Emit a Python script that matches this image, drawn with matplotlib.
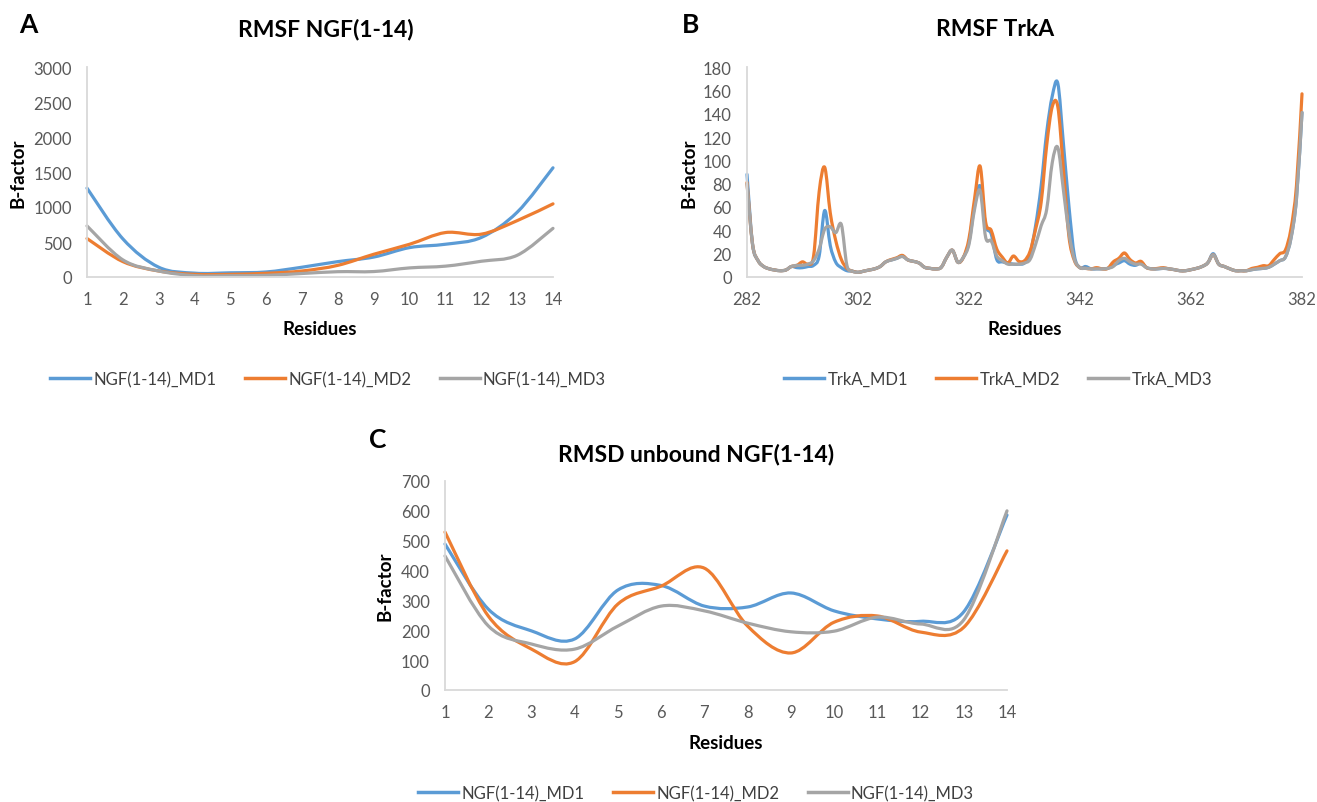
import numpy as np
import matplotlib
matplotlib.use("Agg")
import matplotlib.pyplot as plt
from matplotlib.path import Path
from matplotlib.patches import PathPatch
from matplotlib.lines import Line2D

plt.rcParams['font.family'] = ['Lato', 'DejaVu Sans']

# panel A: RMSF NGF(1-14)
ngf_residues = list(range(1, 15))
ngf_md1 = [1270, 545, 140, 55, 60, 72, 140, 220, 285, 420, 468, 565, 925, 1560]
ngf_md2 = [550, 220, 86, 38, 38, 53, 86, 167, 325, 468, 635, 612, 805, 1045]
ngf_md3 = [730, 245, 86, 20, 18, 24, 50, 76, 78, 130, 155, 225, 310, 695]

# panel B: RMSF TrkA (residues 282-382)
trka_residues = list(range(282, 383))
trka_md1 = [88, 28, 14, 9, 7, 6, 5.4, 6, 9, 8,
            8, 9, 10, 18, 57, 27, 12.6, 8, 5.4, 5,
            4, 5, 6, 7, 9, 13, 14.6, 16, 18, 14.6,
            13.4, 12, 8.3, 7.4, 6.9, 8.3, 17, 23, 12.6, 17,
            30, 61, 78, 44, 37, 15, 13, 12, 11, 11,
            12, 20, 44, 78, 124, 155, 166, 115, 61, 18,
            8, 9, 7, 7, 7, 7.4, 10, 12, 14, 11,
            10, 12, 8, 7, 7, 7.4, 7, 6.3, 5.4, 5.4,
            6.3, 7.4, 9, 12, 20, 11, 9, 7, 5.4, 5.4,
            5.4, 6.3, 7, 7.4, 8.3, 11, 14, 17, 33, 67,
            141]
trka_md2 = [81, 28, 14, 9, 7, 6, 5.4, 6, 9, 10,
            13, 11, 18, 73, 94, 55, 31, 15, 7.4, 5,
            4, 5, 6, 7, 9, 13, 15, 16.5, 18.5, 14.6,
            13.4, 12, 8.3, 7.4, 6.9, 8.3, 17, 23, 12.6, 17,
            33, 67, 95, 47, 40, 24, 17, 12, 18, 13.4,
            14, 22, 41, 64, 113, 146, 146, 93, 35, 14,
            8, 7.4, 7, 8, 7, 7.4, 13, 16, 20.6, 15,
            12, 13.4, 8, 7, 7.4, 8, 7, 6.3, 5.4, 5.4,
            6.3, 7.4, 9, 12, 19, 11, 9, 7, 5.4, 5.4,
            5.4, 7.4, 8.3, 9.7, 9.7, 15, 20, 23, 41, 78,
            157]
trka_md3 = [80, 28, 14, 9, 7, 6, 5.4, 6, 9, 10,
            10, 11, 14, 24, 41, 43, 38, 45, 10, 5,
            4, 5, 6, 7, 9, 13, 14.5, 16, 17.5, 14.6,
            13.4, 12, 8.3, 7.4, 6.9, 8.3, 17, 23, 12.6, 17,
            28, 58, 74, 34, 31, 18, 14, 11, 11, 11,
            12, 15, 28, 44, 58, 98, 111, 75, 38, 15,
            8, 7.4, 7, 7, 7, 7.4, 9, 14, 16, 13,
            11, 11, 8, 7, 7, 7.4, 7, 6.3, 5.4, 5.4,
            6.3, 7.4, 9, 12, 19, 11, 9, 7, 5.4, 5.4,
            5.4, 6.3, 7, 7.4, 8.3, 11, 14, 17, 33, 67,
            141]

# panel C: RMSD unbound NGF(1-14)
unb_md1 = [489, 271, 198, 171, 335, 350, 281, 278, 325, 265, 238, 230, 262, 586]
unb_md2 = [529, 248, 137, 95, 288, 348, 408, 214, 124, 227, 248, 194, 210, 466]
unb_md3 = [449, 215, 154, 137, 214, 281, 265, 224, 195, 197, 244, 221, 235, 600]

colors = ['#5B9BD5', '#ED7D31', '#A5A5A5']
W, H = 1317, 803


def smooth_path(x, y):
    # Excel-like smoothed line: bezier segments through every point
    pts = np.column_stack([x, y]).astype(float)
    n = len(pts)
    verts = [pts[0]]
    codes = [Path.MOVETO]
    for i in range(n - 1):
        p0 = pts[i - 1] if i > 0 else pts[i]
        p1 = pts[i]
        p2 = pts[i + 1]
        p3 = pts[i + 2] if i + 2 < n else pts[i + 1]
        verts += [p1 + (p2 - p0) / 6, p2 - (p3 - p1) / 6, p2]
        codes += [Path.CURVE4] * 3
    return Path(verts, codes)


def draw_panel(rect, x, series, ylim, yticks, xticks, ylab_x, xlab_y):
    ax = fig.add_axes(rect)
    for vals, c in zip(series, colors):
        ax.add_patch(PathPatch(smooth_path(x, vals), fill=False, edgecolor=c,
                               lw=2.3, capstyle='round', joinstyle='round',
                               clip_on=False))
    ax.set_xlim(x[0], x[-1])
    ax.set_ylim(*ylim)
    ax.set_yticks(yticks)
    ax.set_xticks(xticks)
    for s in ['top', 'right']:
        ax.spines[s].set_visible(False)
    for s in ['left', 'bottom']:
        ax.spines[s].set_color('#D9D9D9')
        ax.spines[s].set_linewidth(1.3)
    ax.tick_params(length=0, labelsize=12, colors='#595959')
    ax.tick_params(axis='y', pad=11)
    ax.tick_params(axis='x', pad=10)
    ax.text(0.5, xlab_y, 'Residues', transform=ax.transAxes, ha='center',
            va='center', fontsize=13.5, fontweight='bold')
    ax.text(ylab_x, 0.5, 'B-factor', transform=ax.transAxes, ha='center',
            va='center', rotation=90, fontsize=13.5, fontweight='bold')
    return ax


def add_legend(labels, cx, cy):
    handles = [Line2D([], [], color=c, lw=2.5) for c in colors]
    fig.legend(handles, labels, loc='center', bbox_to_anchor=(cx / W, 1 - cy / H),
               ncol=3, frameon=False, fontsize=12, handlelength=2.4,
               handletextpad=0.2, columnspacing=1.7, labelcolor='#404040')


fig = plt.figure(figsize=(W / 100, H / 100), dpi=100)

draw_panel([87 / W, 1 - 278 / H, 466 / W, 210 / H], ngf_residues,
           [ngf_md1, ngf_md2, ngf_md3], (0, 3000), range(0, 3001, 500),
           ngf_residues, -0.148, -0.245)
draw_panel([747 / W, 1 - 278 / H, 555 / W, 210 / H], trka_residues,
           [trka_md1, trka_md2, trka_md3], (0, 180), range(0, 181, 20),
           range(282, 383, 20), -0.105, -0.245)
draw_panel([445 / W, 1 - 691 / H, 562 / W, 209 / H], ngf_residues,
           [unb_md1, unb_md2, unb_md3], (0, 700), range(0, 701, 100),
           ngf_residues, -0.107, -0.25)

# titles and panel letters
fig.text(326 / W, 1 - 30 / H, 'RMSF NGF(1-14)', ha='center', va='center',
         fontsize=16.5, fontweight='bold')
fig.text(995 / W, 1 - 30 / H, 'RMSF TrkA', ha='center', va='center',
         fontsize=16.5, fontweight='bold')
fig.text(696 / W, 1 - 455 / H, 'RMSD unbound NGF(1-14)', ha='center', va='center',
         fontsize=16.5, fontweight='bold')
fig.text(28 / W, 1 - 25 / H, 'A', ha='center', va='center', fontsize=19, fontweight='bold')
fig.text(691 / W, 1 - 25 / H, 'B', ha='center', va='center', fontsize=19, fontweight='bold')
fig.text(378 / W, 1 - 440 / H, 'C', ha='center', va='center', fontsize=19, fontweight='bold')

add_legend(['NGF(1-14)_MD1', 'NGF(1-14)_MD2', 'NGF(1-14)_MD3'], 328, 380)
add_legend(['TrkA_MD1', 'TrkA_MD2', 'TrkA_MD3'], 998, 380)
add_legend(['NGF(1-14)_MD1', 'NGF(1-14)_MD2', 'NGF(1-14)_MD3'], 696, 794)

fig.savefig('out.png', dpi=100)
